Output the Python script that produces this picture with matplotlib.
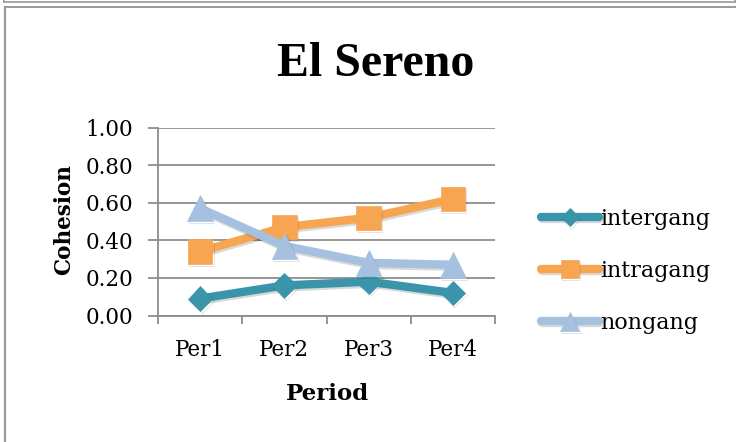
import matplotlib
matplotlib.use("Agg")
import matplotlib.pyplot as plt
import matplotlib.patheffects as pe
from matplotlib.lines import Line2D

# Data
periods = ["Per1", "Per2", "Per3", "Per4"]
intergang = [0.09, 0.16, 0.18, 0.12]
intragang = [0.34, 0.47, 0.52, 0.62]
nongang = [0.57, 0.37, 0.28, 0.27]
y_ticks = [0.0, 0.2, 0.4, 0.6, 0.8, 1.0]

title = "El Sereno"
x_label = "Period"
y_label = "Cohesion"

series = [
    ("intergang", intergang, "#3A95AA", "D", 12.5),
    ("intragang", intragang, "#F8A552", "s", 17.5),
    ("nongang", nongang, "#A6C0DF", "^", 18.5),
]

plt.rcParams["font.family"] = ["DejaVu Serif"]

W, H = 736, 442
fig = plt.figure(figsize=(W / 100, H / 100), dpi=100)
ax = fig.add_axes([158 / W, 1 - 315.5 / H, (495 - 158) / W, (315.5 - 127.5) / H])

grid_c = "#8c8c8c"
x = list(range(len(periods)))
shadow = [pe.SimpleLineShadow(offset=(1.0, -1.5), shadow_color="k", alpha=0.15), pe.Normal()]
for name, vals, col, mk, ms in series:
    ax.plot(x, vals, color=col, lw=6.0, marker=mk, ms=ms, mfc=col, mec=col,
            mew=0.5, label=name, solid_capstyle="round", path_effects=shadow,
            zorder=3, clip_on=False)

ax.set_xlim(-0.5, len(periods) - 0.5)
ax.set_ylim(0, 1)
ax.set_yticks(y_ticks)
ax.set_yticklabels([f"{v:.2f}" for v in y_ticks])
ax.set_xticks(x)
ax.set_xticklabels(periods)
ax.set_xticks([i - 0.5 for i in range(len(periods) + 1)], minor=True)
ax.tick_params(axis="x", which="major", length=0, pad=17, labelsize=15.5)
ax.tick_params(axis="x", which="minor", length=6, width=1.3, color=grid_c, direction="out")
ax.tick_params(axis="y", length=7, width=1.3, color=grid_c, pad=11, labelsize=15.5)
ax.yaxis.grid(True, color=grid_c, lw=1.3)
ax.set_axisbelow(True)
for s in ("top", "right"):
    ax.spines[s].set_visible(False)
for s in ("left", "bottom"):
    ax.spines[s].set_color(grid_c)
    ax.spines[s].set_linewidth(1.3)

fig.text(376 / W, 1 - 76 / H, title, ha="center", va="baseline",
         fontsize=34.5, fontweight="bold", family="Liberation Serif")
fig.text(327 / W, 1 - 400 / H, x_label, ha="center", va="baseline",
         fontsize=16.5, fontweight="bold")
fig.text(64 / W, 1 - 220 / H, y_label, ha="center", va="center",
         fontsize=15.5, fontweight="bold", rotation=90)

leg = ax.legend(loc="center left", bbox_to_anchor=(532 / W, 1 - 271 / H),
                bbox_transform=fig.transFigure, frameon=False, fontsize=16,
                handlelength=2.6, handletextpad=0.05, labelspacing=1.35,
                markerscale=0.75, borderaxespad=0)

# Outer frame lines
gray = "#9a9a9a"
fig.add_artist(Line2D([4 / W, 735 / W], [1 - 2 / H, 1 - 2 / H], color=gray, lw=1.2, transform=fig.transFigure))
fig.add_artist(Line2D([4 / W, 4 / W], [1, 1 - 2 / H], color=gray, lw=1.2, transform=fig.transFigure))
fig.add_artist(Line2D([735 / W, 735 / W], [1, 1 - 2 / H], color=gray, lw=1.2, transform=fig.transFigure))
fig.add_artist(Line2D([5 / W, 1], [1 - 6.5 / H, 1 - 6.5 / H], color=gray, lw=1.4, transform=fig.transFigure))
fig.add_artist(Line2D([5 / W, 5 / W], [0, 1 - 6.5 / H], color=gray, lw=1.6, transform=fig.transFigure))

fig.savefig("out.png", dpi=100)
